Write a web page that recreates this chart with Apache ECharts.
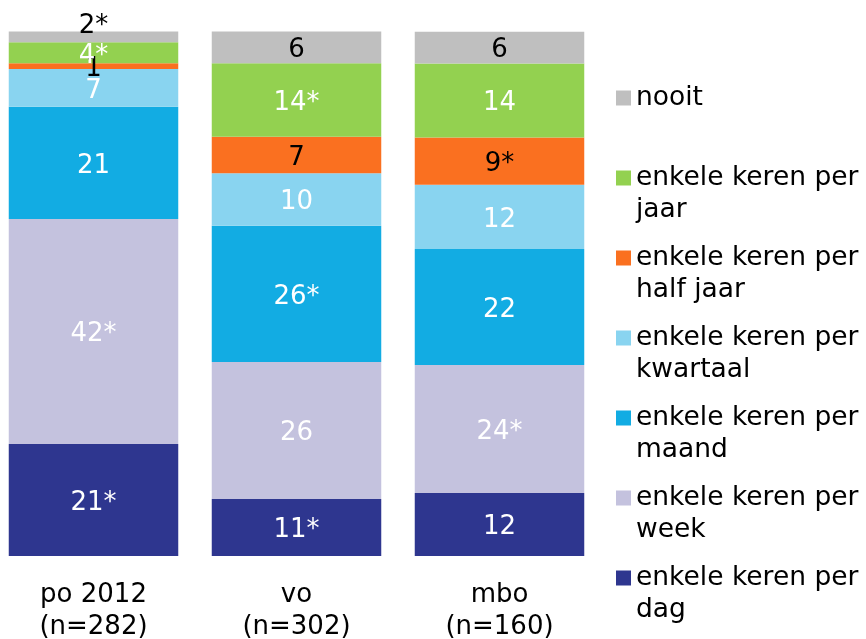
<!DOCTYPE html>
<html>
<head>
<meta charset="utf-8">
<script src="https://cdn.jsdelivr.net/npm/echarts@6/dist/echarts.min.js"></script>
<style>html,body{margin:0;padding:0;background:#fff;}#chart{width:866px;height:639px;}</style>
</head>
<body>
<div id="chart"></div>
<script>
// Categories (x axis)
const categories = ['po 2012\n(n=282)', 'vo\n(n=302)', 'mbo\n(n=160)'];

// Series names (bottom to top of the stack)
const seriesNames = [
  'enkele keren per\ndag',
  'enkele keren per\nweek',
  'enkele keren per\nmaand',
  'enkele keren per\nkwartaal',
  'enkele keren per\nhalf jaar',
  'enkele keren per\njaar',
  'nooit'
];

// Segment sizes (percent of bar)
const dag      = [21.35, 10.87, 12.01];
const week     = [42.90, 26.10, 24.40];
const maand    = [21.40, 26.00, 22.10];
const kwartaal = [7.19, 9.99, 12.26];
const halfJaar = [1.09, 6.98, 9.04];
const jaar     = [4.00, 13.99, 14.10];
const nooit    = [2.06, 6.06, 6.06];

// Printed labels
const dagLabels      = ['21*', '11*', '12'];
const weekLabels     = ['42*', '26', '24*'];
const maandLabels    = ['21', '26*', '22'];
const kwartaalLabels = ['7', '10', '12'];
const halfJaarLabels = ['1', '7', '9*'];
const jaarLabels     = ['4*', '14*', '14'];
const nooitLabels    = ['2*', '6', '6'];

const values = [dag, week, maand, kwartaal, halfJaar, jaar, nooit];
const labels = [dagLabels, weekLabels, maandLabels, kwartaalLabels, halfJaarLabels, jaarLabels, nooitLabels];
const colors = ['#2E368F', '#C4C2DE', '#12ACE3', '#89D4F0', '#FA7020', '#93D150', '#BFBFBF'];
const labelColors = ['#fff', '#fff', '#fff', '#fff', '#000', '#fff', '#000'];

const FONT = 'DejaVu Sans';

const series = values.map(function (vals, si) {
  return {
    name: seriesNames[si],
    type: 'bar',
    stack: 'total',
    barWidth: 169.5,
    itemStyle: { color: colors[si] },
    label: {
      show: true,
      position: 'inside',
      offset: [0, 3],
      color: labelColors[si],
      fontFamily: FONT,
      fontSize: 26,
      formatter: function (p) { return labels[si][p.dataIndex]; }
    },
    data: vals.map(function (v, di) {
      const item = { value: v };
      if (si === 6 && di === 0) {
        item.label = { offset: [0, -11] };
      }
      return item;
    })
  };
});

const chart = echarts.init(document.getElementById('chart'), null, { renderer: 'canvas' });
chart.setOption({
  animation: false,
  backgroundColor: '#fff',
  grid: { left: 93.5, right: 366.5, top: 31.5, bottom: 83, containLabel: false, outerBoundsMode: 'none' },
  xAxis: {
    type: 'category',
    data: categories,
    boundaryGap: false,
    axisLine: { show: false },
    axisTick: { show: false },
    splitLine: { show: false },
    axisLabel: {
      interval: 0,
      margin: 23,
      color: '#000',
      fontFamily: FONT,
      fontSize: 26,
      lineHeight: 32
    }
  },
  yAxis: {
    type: 'value',
    min: 0,
    max: 100,
    show: false,
    splitLine: { show: false }
  },
  legend: {
    orient: 'vertical',
    left: 616,
    top: 82,
    padding: 0,
    itemGap: 16,
    itemWidth: 15,
    itemHeight: 47,
    selectedMode: false,
    icon: 'path://M0,0h15v15h-15zM0,47h15',
    data: seriesNames.slice().reverse(),
    formatter: function (name) { return name.indexOf('\n') >= 0 ? name : name + '\n\u00a0'; },
    textStyle: { color: '#000', fontFamily: FONT, fontSize: 26.5, lineHeight: 32 }
  },
  series: series
});
</script>
</body>
</html>
